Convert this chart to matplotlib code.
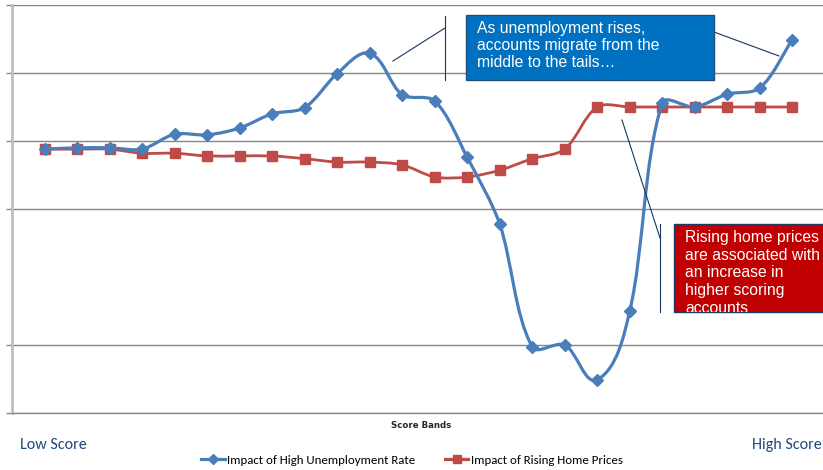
import numpy as np
import matplotlib.pyplot as plt
from matplotlib.path import Path
from matplotlib.patches import PathPatch, Rectangle
from matplotlib.lines import Line2D

# score bands 1..24, values in chart units (0 = x axis)
bands = list(range(1, 25))
unemployment = [3.88, 3.90, 3.90, 3.88, 4.10, 4.09, 4.19, 4.40, 4.49, 4.99,
                5.29, 4.68, 4.59, 3.76, 2.78, 0.97, 1.00, 0.49, 1.50, 4.56,
                4.50, 4.69, 4.78, 5.49]
home_prices = [3.88, 3.88, 3.88, 3.82, 3.82, 3.78, 3.78, 3.78, 3.74, 3.69,
               3.69, 3.65, 3.47, 3.47, 3.57, 3.74, 3.88, 4.50, 4.50, 4.50,
               4.50, 4.50, 4.50, 4.50]

legend_labels = ["Impact of High Unemployment Rate", "Impact of Rising Home Prices"]
blue = "#4A7EBB"
red = "#BE4B48"

W, H = 823, 470
XPX, YPX = 32.65, 68.0   # pixels per data unit


def fx(px):
    return px / W


def fy(py):
    return 1 - py / H


def smooth_path(x, y, s=0.3):
    # smoothed line: bezier through the points, handles scaled by segment length
    p = np.column_stack([np.asarray(x, float) * XPX, np.asarray(y, float) * YPX])
    n = len(p)
    tang = []
    for i in range(n):
        a = p[max(i - 1, 0)]
        b = p[min(i + 1, n - 1)]
        d = b - a
        tang.append(d / np.hypot(*d))
    verts = [p[0]]
    codes = [Path.MOVETO]
    for i in range(n - 1):
        L = np.hypot(*(p[i + 1] - p[i]))
        c1 = p[i] + tang[i] * L * s
        c2 = p[i + 1] - tang[i + 1] * L * s
        verts += [c1, c2, p[i + 1]]
        codes += [Path.CURVE4] * 3
    verts = np.array(verts) / [XPX, YPX]
    return Path(verts, codes)


fig = plt.figure(figsize=(8.23, 4.70), dpi=100)
ax = fig.add_axes([fx(12), fy(413), 1 - fx(12) + 0.02, (413 - 5) / H])
ax.set_xlim(0, 25.45)
ax.set_ylim(0, 6)

ax.set_yticks([0, 1, 3, 4, 5, 6])
ax.set_yticklabels([])
ax.set_xticks([])
ax.tick_params(axis="y", length=4, color="#868686", width=1)
ax.grid(axis="y", color="#868686", linewidth=1)
ax.set_axisbelow(True)
for s in ["top", "right"]:
    ax.spines[s].set_visible(False)
ax.spines["left"].set_color("#BFBFBF")
ax.spines["left"].set_linewidth(2)
ax.spines["bottom"].set_color("#868686")
ax.spines["bottom"].set_linewidth(1)

ax.add_patch(PathPatch(smooth_path(bands, home_prices), fill=False,
                       edgecolor=red, lw=2.0, zorder=3))
ax.plot(bands, home_prices, ls="none", marker="s", ms=7, color=red, zorder=4)

ax.add_patch(PathPatch(smooth_path(bands, unemployment), fill=False,
                       edgecolor=blue, lw=2.3, zorder=5))
ax.plot(bands, unemployment, ls="none", marker="D", ms=6, color=blue, zorder=6)

# callout boxes
line_c = "#17375E"
fig.add_artist(Line2D([fx(393), fx(445)], [fy(61), fy(28)], color=line_c, lw=0.8))
fig.add_artist(Line2D([fx(445), fx(445)], [fy(16), fy(80)], color=line_c, lw=0.8))
fig.add_artist(Line2D([fx(714), fx(779)], [fy(32), fy(56)], color=line_c, lw=0.8))
box1 = Rectangle((fx(466), fy(80)), fx(714 - 466), (80 - 15) / H,
                 transform=fig.transFigure, facecolor="#0070C0",
                 edgecolor="#1F4E79", lw=1, zorder=10)
fig.add_artist(box1)
fig.text(fx(477), fy(21), "As unemployment rises,\naccounts migrate from the\nmiddle to the tails\u2026",
         ha="left", va="top", color="white", fontsize=11.3, family="Liberation Sans",
         linespacing=1.15, zorder=11)

fig.add_artist(Line2D([fx(622), fx(660)], [fy(120), fy(238)], color=line_c, lw=0.8))
fig.add_artist(Line2D([fx(660), fx(660)], [fy(224), fy(312)], color=line_c, lw=0.8))
box2 = Rectangle((fx(674), fy(312)), fx(160), (312 - 224) / H,
                 transform=fig.transFigure, facecolor="#C00000",
                 edgecolor="#1F3864", lw=1, zorder=10)
fig.add_artist(box2)
t2 = fig.text(fx(685), fy(230), "Rising home prices\nare associated with\nan increase in\nhigher scoring\naccounts",
              ha="left", va="top", color="white", fontsize=11.3, family="Liberation Sans",
              linespacing=1.22, zorder=11)
t2.set_clip_path(box2)

# bottom labels
cal = ["Carlito", "DejaVu Sans"]
fig.text(fx(421), fy(425), "Score Bands", ha="center", va="center", fontsize=6.2,
         family="DejaVu Sans", weight="bold", color="#262626")
fig.text(fx(20), fy(445), "Low Score", ha="left", va="center", fontsize=11.5,
         family=cal, color="#1F497D")
fig.text(fx(822), fy(445), "High Score", ha="right", va="center", fontsize=11.5,
         family=cal, color="#1F497D")

handles = [Line2D([], [], color=blue, lw=2.3, marker="D", ms=5),
           Line2D([], [], color=red, lw=2.3, marker="s", ms=6)]
fig.legend(handles, legend_labels, loc="center", bbox_to_anchor=(fx(412), fy(460)),
           ncol=2, frameon=False, handlelength=1.8, handletextpad=0.2,
           columnspacing=2.3, prop={"family": cal, "size": 9.3})

fig.savefig("out.png", dpi=100)
